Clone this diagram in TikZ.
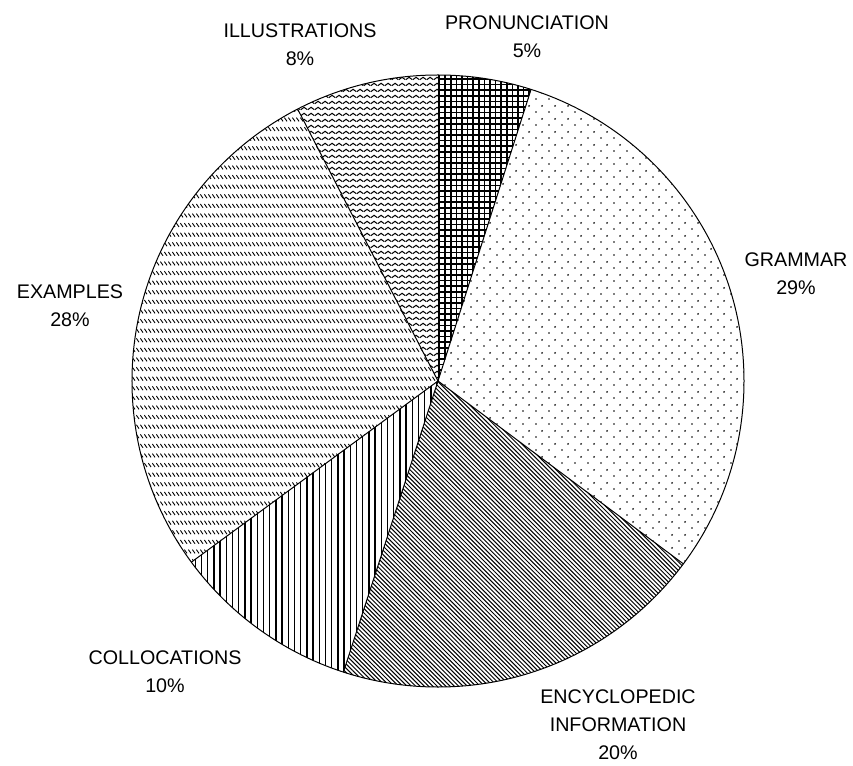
\documentclass[tikz,border=0pt]{standalone}
\usepackage{fontspec}
\setmainfont{Liberation Sans}
\usetikzlibrary{patterns}

% fill patterns of the slices
\pgfdeclarepatternformonly{crossgrid}{\pgfpoint{-1pt}{-1pt}}{\pgfpoint{6.5pt}{6.5pt}}{\pgfpoint{5.6pt}{5.6pt}}{
	\pgfsetlinewidth{1.5pt}
	\pgfpathmoveto{\pgfpoint{-0.5pt}{2.8pt}}\pgfpathlineto{\pgfpoint{6.1pt}{2.8pt}}
	\pgfpathmoveto{\pgfpoint{2.8pt}{-0.5pt}}\pgfpathlineto{\pgfpoint{2.8pt}{6.1pt}}
	\pgfusepath{stroke}}
\pgfdeclarepatternformonly{sparsedots}{\pgfpoint{0pt}{0pt}}{\pgfpoint{13pt}{13pt}}{\pgfpoint{13pt}{13pt}}{
	\pgfpathcircle{\pgfpoint{3.25pt}{3.25pt}}{1pt}
	\pgfpathcircle{\pgfpoint{9.75pt}{9.75pt}}{1pt}
	\pgfusepath{fill}}
\pgfdeclarepatternformonly{densediag}{\pgfpoint{-1pt}{-1pt}}{\pgfpoint{5.3pt}{5.3pt}}{\pgfpoint{4.3pt}{4.3pt}}{
	\pgfsetlinewidth{1pt}
	\pgfpathmoveto{\pgfpoint{0pt}{4.3pt}}\pgfpathlineto{\pgfpoint{4.4pt}{-0.1pt}}
	\pgfusepath{stroke}}
\pgfdeclarepatternformonly{vertlines}{\pgfpoint{0pt}{-1pt}}{\pgfpoint{6.2pt}{2pt}}{\pgfpoint{6.2pt}{1pt}}{
	\pgfsetlinewidth{1.3pt}
	\pgfpathmoveto{\pgfpoint{3.1pt}{-1pt}}\pgfpathlineto{\pgfpoint{3.1pt}{2pt}}
	\pgfusepath{stroke}}
\pgfdeclarepatternformonly{dashrows}{\pgfpoint{-1pt}{-1pt}}{\pgfpoint{5pt}{10pt}}{\pgfpoint{4pt}{9.6pt}}{
	\pgfsetlinewidth{0.9pt}
	\pgfpathmoveto{\pgfpoint{0.4pt}{4.2pt}}\pgfpathlineto{\pgfpoint{3pt}{0.4pt}}
	\pgfusepath{stroke}}
\pgfdeclarepatternformonly{zigzag}{\pgfpoint{0pt}{0pt}}{\pgfpoint{7pt}{6pt}}{\pgfpoint{7pt}{6pt}}{
	\pgfsetlinewidth{1.2pt}
	\pgfpathmoveto{\pgfpoint{-0.2pt}{1.5pt}}\pgfpathlineto{\pgfpoint{3.5pt}{4.3pt}}\pgfpathlineto{\pgfpoint{7.2pt}{1.5pt}}
	\pgfusepath{stroke}}

\begin{document}
\begin{tikzpicture}[x=1pt, y=1pt,
	edge/.style={draw=black, line width=1pt},
	lbl/.style={align=center, inner sep=0pt, font=\fontsize{19.7}{28}\selectfont}]
	\useasboundingbox (-438,-384) rectangle (415,381);
	\def\pieR{306}
	\coordinate (c) at (0,0);
	% slices, clockwise from the top
	\fill[pattern=crossgrid] (c) -- (90:\pieR) arc (90:72.3:\pieR) -- cycle;
	\fill[pattern=sparsedots] (c) -- (72.3:\pieR) arc (72.3:-36.7:\pieR) -- cycle;
	\fill[pattern=densediag] (c) -- (-36.7:\pieR) arc (-36.7:-108:\pieR) -- cycle;
	\fill[pattern=vertlines] (c) -- (-108:\pieR) arc (-108:-143.7:\pieR) -- cycle;
	\fill[pattern=dashrows] (c) -- (-143.7:\pieR) arc (-143.7:-242.7:\pieR) -- cycle;
	\fill[pattern=zigzag] (c) -- (117.3:\pieR) arc (117.3:90:\pieR) -- cycle;
	\draw[edge] (c) circle (\pieR);
	\foreach \a in {90,72.3,-36.7,-108,-143.7,117.3}
		\draw[edge] (c) -- (\a:\pieR);
	% labels
	\node[lbl] (pron) at (89,344.5) {PRONUNCIATION\\5\%};
	\node[lbl] (gram) at (358,107) {GRAMMAR\\29\%};
	\node[lbl] (ency) at (180,-344) {ENCYCLOPEDIC\\INFORMATION\\20\%};
	\node[lbl] (coll) at (-273,-290.5) {COLLOCATIONS\\10\%};
	\node[lbl] (exam) at (-368,75) {EXAMPLES\\28\%};
	\node[lbl] (illu) at (-138,336.5) {ILLUSTRATIONS\\8\%};
\end{tikzpicture}
\end{document}
